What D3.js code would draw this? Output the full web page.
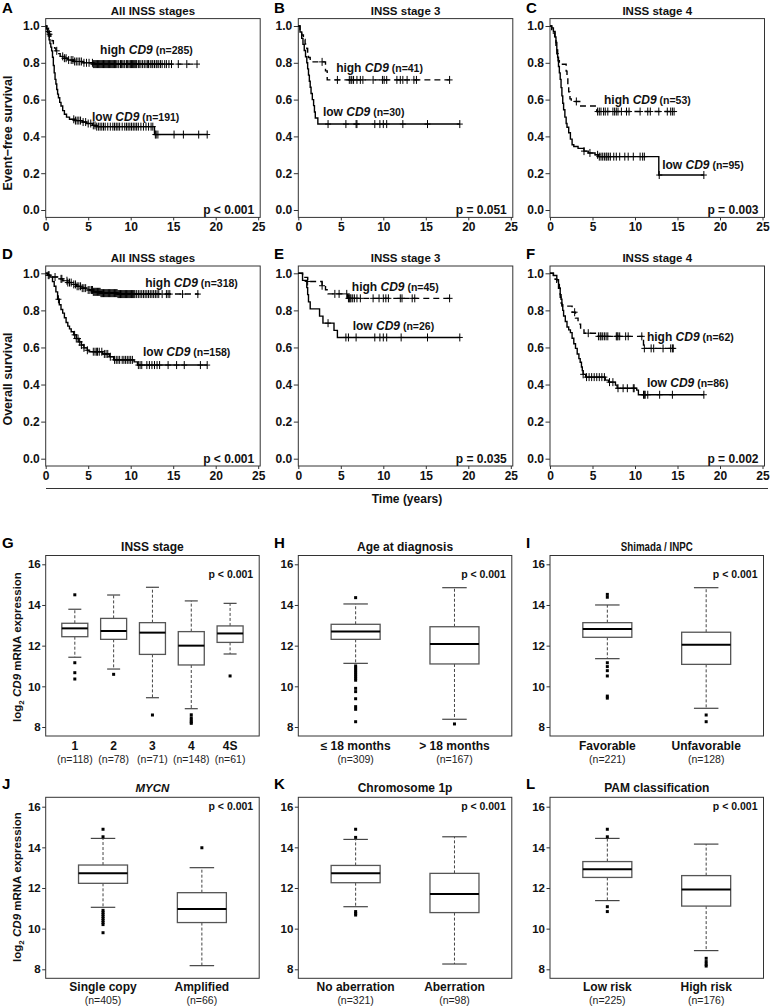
<!DOCTYPE html>
<html><head><meta charset="utf-8">
<script src="https://cdn.jsdelivr.net/npm/d3@7"></script>
<style>body{margin:0;background:#fff}svg{display:block}</style>
</head><body><svg id="c" width="770" height="1007"></svg>
<script>
// ---------------- DATA ----------------
// Kaplan-Meier step points [time (years), survival] (last point = end of follow-up) and censor times
const efsAllHigh = [[0,1],[0.15,0.985],[0.3,0.97],[0.45,0.955],[0.6,0.94],[0.75,0.92],[0.9,0.9],[1.05,0.88],[1.2,0.865],[1.4,0.85],[1.7,0.835],[2.1,0.825],[2.6,0.815],[3.3,0.807],[4.4,0.8],[5.6,0.793],[17.8,0.793]];
const efsAllHighCens = [0.35,0.45,1.3,2.0,2.2,2.4,2.7,3.0,3.2,3.4,3.6,3.8,4.0,4.2,4.5,4.8,5.1,5.5,5.6,5.7,5.8,5.9,6.0,6.1,6.2,6.3,6.4,6.5,6.6,6.7,6.8,6.9,7.0,7.1,7.2,7.3,7.4,7.5,7.6,7.7,7.8,7.9,8.0,8.1,8.2,8.3,8.5,8.6,8.8,8.9,9.0,9.2,9.3,9.5,9.6,9.7,9.9,10.0,10.1,10.2,10.3,10.4,10.5,10.6,10.7,10.9,11.0,11.2,11.4,11.6,11.8,12.0,12.1,12.3,12.5,12.6,12.8,13.0,13.1,13.3,13.5,13.7,14.0,14.2,14.5,14.8,15.6,16.6,17.8];
const efsAllLow = [[0,1],[0.1,0.985],[0.2,0.965],[0.3,0.945],[0.4,0.925],[0.5,0.905],[0.6,0.885],[0.7,0.865],[0.8,0.83],[0.9,0.785],[1.0,0.745],[1.1,0.71],[1.2,0.685],[1.3,0.655],[1.4,0.63],[1.5,0.61],[1.65,0.585],[1.8,0.565],[2.0,0.54],[2.2,0.52],[2.45,0.505],[2.8,0.493],[3.4,0.486],[4.3,0.478],[4.8,0.47],[5.5,0.46],[6.0,0.453],[12.8,0.41],[19.0,0.41]];
const efsAllLowCens = [3.3,3.5,3.7,3.9,4.1,4.4,4.7,5.0,5.3,5.6,5.8,6.0,6.2,6.4,6.6,6.8,7.0,7.3,7.6,7.9,8.1,8.3,8.5,8.7,9.0,9.3,9.5,9.7,9.9,10.1,10.3,10.5,10.7,10.9,11.2,11.5,11.8,12.1,12.4,12.6,12.9,13.0,13.2,15.1,16.2,18.0,19.0];

const efsSt3High = [[0,1],[0.2,0.976],[0.4,0.951],[0.6,0.927],[0.8,0.902],[1.0,0.878],[1.1,0.854],[1.2,0.829],[1.4,0.805],[3.2,0.756],[3.4,0.707],[17.8,0.707]];
const efsSt3HighCens = [2.8,4.6,6.0,6.2,6.3,6.5,6.9,7.3,7.6,8.8,9.9,10.1,10.4,11.6,12.0,12.3,12.8,13.6,13.9,17.8];
const efsSt3Low = [[0,1],[0.2,0.967],[0.4,0.933],[0.55,0.9],[0.7,0.867],[0.85,0.833],[1.0,0.8],[1.1,0.767],[1.2,0.733],[1.3,0.7],[1.4,0.667],[1.5,0.633],[1.65,0.6],[1.8,0.567],[1.9,0.533],[2.0,0.5],[2.3,0.467],[19.0,0.467]];
const efsSt3LowCens = [3.5,5.6,6.8,6.9,9.0,9.6,10.0,10.4,12.3,15.2,19.0];

const efsSt4High = [[0,1],[0.2,0.981],[0.4,0.962],[0.55,0.925],[0.7,0.887],[0.8,0.849],[0.95,0.811],[1.1,0.792],[1.9,0.755],[2.0,0.717],[2.1,0.679],[2.2,0.642],[2.35,0.604],[2.5,0.59],[3.5,0.565],[5.5,0.535],[14.7,0.535]];
const efsSt4HighCens = [3.1,5.6,5.8,6.0,6.3,6.5,6.8,7.4,7.6,7.8,8.0,8.4,9.0,9.3,10.6,11.5,11.8,12.8,13.8,14.2,14.4,14.6];
const efsSt4Low = [[0,1],[0.2,0.99],[0.4,0.97],[0.6,0.94],[0.7,0.91],[0.8,0.87],[0.9,0.83],[1.0,0.78],[1.1,0.745],[1.2,0.71],[1.3,0.665],[1.4,0.62],[1.5,0.58],[1.6,0.545],[1.75,0.505],[1.9,0.47],[2.0,0.45],[2.2,0.42],[2.4,0.385],[2.6,0.355],[2.8,0.345],[3.3,0.335],[4.0,0.32],[4.5,0.31],[5.3,0.3],[5.7,0.29],[12.8,0.19],[18.1,0.19]];
const efsSt4LowCens = [4.0,4.7,5.6,5.8,6.0,6.2,6.4,6.6,6.7,6.9,7.1,7.5,7.8,8.2,8.8,9.2,9.8,10.6,10.9,11.1,12.85,18.1];

const osAllHigh = [[0,1],[0.3,0.99],[0.8,0.98],[1.4,0.97],[2.0,0.96],[2.6,0.95],[3.2,0.94],[3.6,0.93],[4.2,0.92],[4.8,0.91],[5.6,0.9],[6.5,0.893],[8.5,0.888],[18.0,0.888]];
const osAllHighCens = [0.3,0.4,1.1,1.8,1.9,2.5,2.6,2.8,3.0,3.3,3.5,3.7,3.9,4.1,4.3,4.5,4.7,5.0,5.2,5.4,5.5,5.6,5.7,5.8,5.9,6.0,6.1,6.2,6.3,6.4,6.5,6.6,6.7,6.8,6.9,7.0,7.1,7.2,7.3,7.4,7.5,7.6,7.7,7.8,7.9,8.0,8.1,8.2,8.3,8.4,8.5,8.6,8.7,8.8,8.9,9.0,9.1,9.2,9.3,9.4,9.5,9.6,9.7,9.8,9.9,10.0,10.1,10.2,10.3,10.4,10.5,10.7,10.9,11.1,11.3,11.5,11.7,11.9,12.1,12.3,12.5,12.7,12.9,13.1,13.3,13.7,14.2,14.4,14.6,16.1,17.9];
const osAllLow = [[0,1],[0.2,0.99],[0.5,0.98],[0.8,0.955],[1.0,0.93],[1.2,0.9],[1.4,0.86],[1.6,0.83],[1.8,0.805],[2.0,0.785],[2.2,0.76],[2.4,0.735],[2.6,0.715],[2.8,0.7],[3.0,0.685],[3.3,0.668],[3.6,0.648],[3.9,0.63],[4.2,0.613],[4.5,0.598],[4.9,0.585],[5.1,0.577],[6.7,0.565],[7.5,0.55],[8.0,0.533],[10.4,0.522],[10.8,0.505],[19.0,0.505]];
const osAllLowCens = [1.5,3.4,3.6,3.8,4.0,4.2,4.5,4.9,5.6,5.8,6.0,6.1,6.3,6.6,6.9,7.1,7.3,7.6,8.1,8.3,8.5,8.7,9.0,9.2,9.4,9.6,9.8,10.0,10.2,10.9,11.1,11.3,11.9,12.2,12.5,12.8,13.1,13.4,14.4,15.4,16.3,18.2,19.0];

const osSt3High = [[0,1],[0.5,0.978],[1.1,0.956],[2.8,0.933],[3.2,0.911],[3.5,0.889],[5.8,0.865],[17.8,0.865]];
const osSt3HighCens = [1.1,2.8,4.3,4.8,5.7,5.9,6.0,6.1,6.2,6.4,6.6,6.9,7.3,8.8,9.5,10.0,10.3,10.6,12.0,12.2,13.4,13.7,17.8];
const osSt3Low = [[0,1],[0.5,0.962],[1.0,0.923],[1.1,0.885],[1.2,0.846],[1.4,0.808],[2.5,0.769],[2.9,0.731],[4.2,0.692],[4.6,0.654],[19.0,0.654]];
const osSt3LowCens = [3.5,5.6,5.9,6.8,9.0,9.6,10.0,10.4,12.1,15.2,19.0];

const osSt4High = [[0,1],[0.4,0.984],[0.6,0.968],[0.8,0.952],[0.9,0.935],[1.0,0.919],[1.2,0.871],[1.3,0.839],[1.4,0.823],[2.6,0.79],[3.0,0.758],[3.3,0.726],[3.6,0.694],[4.0,0.677],[5.5,0.66],[11.0,0.595],[14.5,0.595]];
const osSt4HighCens = [2.9,4.5,5.7,5.9,6.0,6.2,6.4,6.6,6.8,7.8,7.9,8.0,8.2,8.9,9.2,10.8,11.1,11.9,12.2,13.3,14.2,14.4,14.5];
const osSt4Low = [[0,1],[0.4,0.988],[0.8,0.965],[1.0,0.94],[1.1,0.92],[1.2,0.885],[1.3,0.86],[1.4,0.83],[1.5,0.8],[1.6,0.77],[1.8,0.74],[2.0,0.71],[2.2,0.695],[2.4,0.68],[2.6,0.65],[2.8,0.62],[3.0,0.595],[3.2,0.565],[3.4,0.54],[3.55,0.52],[3.7,0.495],[3.8,0.475],[3.9,0.455],[4.2,0.44],[6.5,0.424],[6.9,0.413],[7.7,0.397],[7.9,0.38],[10.2,0.37],[10.4,0.345],[18.1,0.345]];
const osSt4LowCens = [3.9,4.3,4.6,4.9,5.2,5.5,5.8,6.1,6.4,7.0,7.4,8.0,8.6,9.1,9.8,9.9,11.0,11.1,11.2,11.5,12.9,14.4,18.1];

const kmTitles = ["All INSS stages","INSS stage 3","INSS stage 4","All INSS stages","INSS stage 3","INSS stage 4"];
const kmLetters = ["A","B","C","D","E","F"];
const kmHighN = [285,41,53,318,45,62];
const kmLowN = [191,30,95,158,26,86];
const kmP = ["p < 0.001","p = 0.051","p = 0.003","p < 0.001","p = 0.035","p = 0.002"];
const kmYTicks = [0,0.2,0.4,0.6,0.8,1.0];
const kmXTicks = [0,5,10,15,20,25];
const kmRowLabels = ["Event\u2212free survival","Overall survival"];

// Box plots: [lower whisker, Q1, median, Q3, upper whisker]; outliers separately
const inssCats = ["1","2","3","4","4S"];
const inssN = [118,78,71,148,61];
const inssStats = [[11.43,12.44,12.85,13.10,13.79],[10.85,12.31,12.72,13.34,14.49],[9.44,11.57,12.64,13.13,14.87],[8.9,11.05,12.0,12.69,14.2],[11.59,12.16,12.6,12.97,14.08]];
const inssOut = [[14.5,11.16,10.67,10.36],[10.59],[8.59],[8.6,8.45,8.34,8.25,8.18],[10.51]];

const ageCats = ["\u2264 18 months","> 18 months"];
const ageN = [309,167];
const ageStats = [[11.13,12.31,12.69,13.05,14.05],[8.38,11.1,12.08,12.93,14.85]];
const ageOut = [[14.36,11.0,10.9,10.8,10.7,10.6,10.5,10.4,10.3,9.9,9.74,9.39,9.0,8.87,8.26],[8.15]];

const inpcCats = ["Favorable","Unfavorable"];
const inpcN = [221,128];
const inpcStats = [[11.36,12.41,12.82,13.13,14.0],[8.92,11.08,12.05,12.66,14.85]];
const inpcOut = [[14.52,14.38,11.16,10.97,10.77,10.51,9.52,9.42],[8.59,8.26]];

const mycnCats = ["Single copy","Amplified"];
const mycnN = [405,66];
const mycnStats = [[11.05,12.23,12.72,13.13,14.44],[8.18,10.3,10.97,11.77,13.0]];
const mycnOut = [[14.89,14.52,10.9,10.8,10.7,10.6,10.5,10.4,10.3,10.2,9.8],[13.98]];

const chr1pCats = ["No aberration","Aberration"];
const chr1pN = [321,98];
const chr1pStats = [[11.08,12.26,12.72,13.11,14.39],[8.26,10.79,11.7,12.72,14.52]];
const chr1pOut = [[14.89,14.49,10.84,10.75,10.67],[]];

const pamCats = ["Low risk","High risk"];
const pamN = [225,176];
const pamStats = [[11.38,12.52,12.92,13.3,14.44],[8.92,11.11,11.93,12.61,14.16]];
const pamOut = [[14.89,14.52,11.08,10.84],[8.54,8.38,8.25,8.16]];

const boxYTicks = [8,10,12,14,16];

// ---------------- LAYOUT ----------------
const FONT = '"Liberation Sans", Arial, Helvetica, sans-serif';
const svg = d3.select("#c").attr("font-family", FONT);
const colX = [45.7, 298.3, 550];
const letterX = [2, 274, 526];
const frameW = 214.5, yearsW = 212.5;
const kmRows = [
  {top:18.6, bot:217.4, y0:210, y1:26, titleY:14.5, letterY:13, ylabY:133},
  {top:266, bot:466, y0:458.7, y1:273.3, titleY:262, letterY:258.5, ylabY:379}
];
const boxRows = [
  {top:555.5, bot:736, y8:727, y16:564.3, titleY:550.5, letterY:547.5, catY:750, nY:762.5, pV:15.52, ylabY:647},
  {top:797.3, bot:978.3, y8:969.3, y16:806.7, titleY:792.3, letterY:788.5, catY:991, nY:1004, pV:16, ylabY:887}
];

function styleAxis(g, size){
  g.attr("font-family", FONT).attr("font-size", size).attr("font-weight","bold");
  g.select(".domain").remove();
  g.selectAll(".tick line").attr("stroke","#333");
  g.selectAll(".tick text").attr("fill","#111");
}

function survAt(steps, t){ let s = steps[0][1]; for (const [tt,v] of steps) if (tt <= t) s = v; return s; }

const kmPanels = [
  {high:efsAllHigh, highC:efsAllHighCens, low:efsAllLow, lowC:efsAllLowCens, hl:[6.4,0.87], ll:[5.45,0.505]},
  {high:efsSt3High, highC:efsSt3HighCens, low:efsSt3Low, lowC:efsSt3LowCens, hl:[4.45,0.772], ll:[2.9,0.533]},
  {high:efsSt4High, highC:efsSt4HighCens, low:efsSt4Low, lowC:efsSt4LowCens, hl:[6.35,0.598], ll:[13.2,0.245]},
  {high:osAllHigh, highC:osAllHighCens, low:osAllLow, lowC:osAllLowCens, hl:[11.7,0.948], ll:[11.45,0.576]},
  {high:osSt3High, highC:osSt3HighCens, low:osSt3Low, lowC:osSt3LowCens, hl:[6.3,0.926], ll:[6.4,0.716]},
  {high:osSt4High, highC:osSt4HighCens, low:osSt4Low, lowC:osSt4LowCens, hl:[11.4,0.656], ll:[11.4,0.408]}
];

kmPanels.forEach((p, i) => {
  const col = i % 3, row = kmRows[Math.floor(i/3)];
  const left = colX[col];
  const x = d3.scaleLinear().domain([0,25]).range([left, left + yearsW]);
  const y = d3.scaleLinear().domain([0,1]).range([row.y0, row.y1]);
  const g = svg.append("g");
  g.append("rect").attr("x", left).attr("y", row.top).attr("width", frameW).attr("height", row.bot-row.top)
    .attr("fill","none").attr("stroke","#333").attr("stroke-width",1);
  const ya = g.append("g").attr("transform",`translate(${left},0)`)
    .call(d3.axisLeft(y).tickValues(kmYTicks).tickFormat(d3.format(".1f")).tickSize(4.5).tickPadding(1.5));
  styleAxis(ya, 12);
  const xa = g.append("g").attr("transform",`translate(0,${row.bot})`)
    .call(d3.axisBottom(x).tickValues(kmXTicks).tickSize(3).tickPadding(2.5));
  styleAxis(xa, 12);
  const line = d3.line().x(d=>x(d[0])).y(d=>y(d[1])).curve(d3.curveStepAfter);
  g.append("path").attr("d", line(p.low)).attr("fill","none").attr("stroke","#000").attr("stroke-width",1.4);
  g.append("path").attr("d", line(p.high)).attr("fill","none").attr("stroke","#000").attr("stroke-width",1.4).attr("stroke-dasharray","6,4");
  const mark = (steps, t) => { const cx = x(t), cy = y(survAt(steps, t)); return `M${cx-3},${cy}H${cx+3}M${cx},${cy-4}V${cy+4}`; };
  g.append("path").attr("d", p.lowC.map(t => mark(p.low, t)).join("")).attr("stroke","#000").attr("stroke-width",1).attr("fill","none");
  g.append("path").attr("d", p.highC.map(t => mark(p.high, t)).join("")).attr("stroke","#000").attr("stroke-width",1).attr("fill","none");
  const label = (pos, kind, n) => {
    const t = g.append("text").attr("x", x(pos[0])).attr("y", y(pos[1])).attr("dy","0.35em")
      .attr("font-weight","bold").attr("font-size",12).attr("fill","#111");
    t.append("tspan").text(kind + " ");
    t.append("tspan").attr("font-style","italic").text("CD9");
    t.append("tspan").attr("font-size",10.5).text(" (n=" + n + ")");
  };
  label(p.hl, "high", kmHighN[i]);
  label(p.ll, "low", kmLowN[i]);
  g.append("text").attr("x", left + frameW - 6).attr("y", y(0)).attr("dy","0.35em").attr("text-anchor","end")
    .attr("font-weight","bold").attr("font-size",12).attr("fill","#111").text(kmP[i]);
  g.append("text").attr("x", left + frameW/2).attr("y", row.titleY).attr("text-anchor","middle")
    .attr("font-weight","bold").attr("font-size",11.5).attr("fill","#111").text(kmTitles[i]);
  g.append("text").attr("x", letterX[col]).attr("y", row.letterY).attr("font-weight","bold").attr("font-size",15).text(kmLetters[i]);
  if (col === 0) {
    g.append("text").attr("transform",`translate(12,${row.ylabY}) rotate(-90)`).attr("text-anchor","middle")
      .attr("font-weight","bold").attr("font-size",12.5).attr("fill","#111").text(kmRowLabels[Math.floor(i/3)]);
  }
});

// shared time axis line and label
svg.append("line").attr("x1",46).attr("x2",768).attr("y1",488.5).attr("y2",488.5).attr("stroke","#333").attr("stroke-width",1);
svg.append("text").attr("x",407).attr("y",502.5).attr("text-anchor","middle").attr("font-weight","bold").attr("font-size",12).attr("fill","#111").text("Time (years)");

// ---------------- BOX PLOTS ----------------
const boxPanels = [
  {letter:"G", title:"INSS stage", cats:inssCats, ns:inssN, stats:inssStats, outs:inssOut, pad:0.75, bw:26},
  {letter:"H", title:"Age at diagnosis", cats:ageCats, ns:ageN, stats:ageStats, outs:ageOut, pad:0.58, bw:49},
  {letter:"I", title:"Shimada / INPC", narrow:true, cats:inpcCats, ns:inpcN, stats:inpcStats, outs:inpcOut, pad:0.58, bw:49},
  {letter:"J", title:"MYCN", italic:true, cats:mycnCats, ns:mycnN, stats:mycnStats, outs:mycnOut, pad:0.58, bw:49},
  {letter:"K", title:"Chromosome 1p", cats:chr1pCats, ns:chr1pN, stats:chr1pStats, outs:chr1pOut, pad:0.58, bw:49},
  {letter:"L", title:"PAM classification", cats:pamCats, ns:pamN, stats:pamStats, outs:pamOut, pad:0.58, bw:49}
];

boxPanels.forEach((p, i) => {
  const col = i % 3, row = boxRows[Math.floor(i/3)];
  const left = colX[col], right = left + frameW - 1;
  const y = d3.scaleLinear().domain([8,16]).range([row.y8, row.y16]);
  const x = d3.scalePoint().domain(p.cats).range([left, right]).padding(p.pad);
  const g = svg.append("g");
  g.append("rect").attr("x", left).attr("y", row.top).attr("width", right-left).attr("height", row.bot-row.top)
    .attr("fill","none").attr("stroke","#333").attr("stroke-width",1);
  const ya = g.append("g").attr("transform",`translate(${left},0)`)
    .call(d3.axisLeft(y).tickValues(boxYTicks).tickSize(3.5).tickPadding(1.5));
  styleAxis(ya, 11.5);
  p.cats.forEach((c, j) => {
    const cx = x(c), s = p.stats[j], bw = p.bw;
    g.append("line").attr("x1",cx).attr("x2",cx).attr("y1",y(s[3])).attr("y2",y(s[4]))
      .attr("stroke","#444").attr("stroke-width",1).attr("stroke-dasharray","3,2");
    g.append("line").attr("x1",cx).attr("x2",cx).attr("y1",y(s[1])).attr("y2",y(s[0]))
      .attr("stroke","#444").attr("stroke-width",1).attr("stroke-dasharray","3,2");
    [s[0], s[4]].forEach(v => g.append("line").attr("x1",cx-bw/4).attr("x2",cx+bw/4).attr("y1",y(v)).attr("y2",y(v))
      .attr("stroke","#444").attr("stroke-width",1.2));
    g.append("rect").attr("x",cx-bw/2).attr("y",y(s[3])).attr("width",bw).attr("height",y(s[1])-y(s[3]))
      .attr("fill","#fff").attr("stroke","#555").attr("stroke-width",1.3);
    g.append("line").attr("x1",cx-bw/2).attr("x2",cx+bw/2).attr("y1",y(s[2])).attr("y2",y(s[2]))
      .attr("stroke","#000").attr("stroke-width",2);
    g.selectAll(null).data(p.outs[j]).join("rect")
      .attr("x",cx-1.5).attr("y",d=>y(d)-1.5).attr("width",3).attr("height",3).attr("fill","#000");
    g.append("text").attr("x",cx).attr("y",row.catY).attr("text-anchor","middle").attr("font-weight","bold")
      .attr("font-size",12).attr("fill","#111").text(c);
    g.append("text").attr("x",cx).attr("y",row.nY).attr("text-anchor","middle")
      .attr("font-size",10.5).attr("fill","#222").text("(n=" + p.ns[j] + ")");
  });
  g.append("text").attr("x", right - 6).attr("y", y(row.pV)).attr("dy","0.35em").attr("text-anchor","end")
    .attr("font-weight","bold").attr("font-size",10.5).attr("fill","#111").text("p < 0.001");
  const tt = g.append("text").attr("x",(left+right)/2).attr("y",row.titleY).attr("text-anchor","middle")
    .attr("font-weight","bold").attr("font-size",12).attr("fill","#111").text(p.title);
  if (p.italic) tt.attr("font-style","italic").attr("font-size",11.5);
  if (p.narrow) tt.attr("textLength",72).attr("lengthAdjust","spacingAndGlyphs");
  g.append("text").attr("x", letterX[col]).attr("y", row.letterY).attr("font-weight","bold").attr("font-size",15).text(p.letter);
  if (col === 0) {
    const t = g.append("text").attr("transform",`translate(21,${row.ylabY}) rotate(-90)`).attr("text-anchor","middle")
      .attr("font-weight","bold").attr("font-size",11.5).attr("fill","#111");
    t.append("tspan").text("log");
    t.append("tspan").attr("font-size",8).attr("dy",3).text("2");
    t.append("tspan").attr("dy",-3).text(" ");
    t.append("tspan").attr("font-style","italic").text("CD9");
    t.append("tspan").text(" mRNA expression");
  }
});
</script></body></html>
